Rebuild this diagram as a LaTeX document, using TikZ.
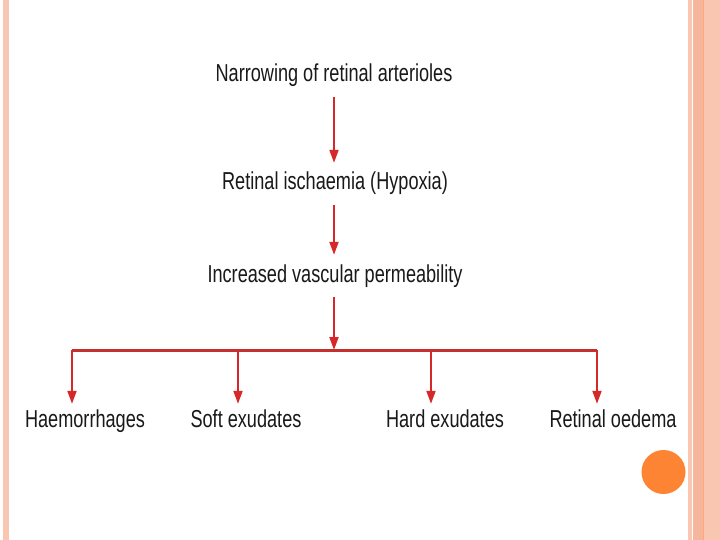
\documentclass[tikz,border=0pt]{standalone}
\usepackage{fontspec}
\setmainfont[FakeStretch=0.74]{Liberation Sans}
\usepackage{xcolor}
\usetikzlibrary{arrows.meta}
\definecolor{arrowred}{RGB}{214,40,40}
\definecolor{busred}{RGB}{196,48,48}
\definecolor{stripe}{RGB}{249,198,178}
\definecolor{stripedark}{RGB}{246,182,158}
\definecolor{dotorange}{RGB}{252,132,50}

\begin{document}
\begin{tikzpicture}[x=1pt, y=-1pt,
    flowtext/.style={anchor=base, font=\fontsize{24.5}{28}\selectfont, text=black!90, text height=17pt, text depth=5pt, inner sep=10pt},
    redarrow/.style={draw=arrowred, line width=2pt, -{Triangle[width=9pt,length=13pt]}}]

    \useasboundingbox (0,0) rectangle (720,540);
    \fill[white] (0,0) rectangle (720,540);

    % slide border
    \fill[stripe] (3,0) rectangle (9,540);
    \fill[stripe] (688,0) rectangle (692,540);
    \fill[stripedark] (693,0) rectangle (703,540);
    \fill[stripe] (703,0) rectangle (720,540);
    \draw[dotorange!70, line width=0.8pt] (703,0) -- (703,540);
    \fill[dotorange] (663.5,472) circle (22);

    \node[flowtext] (narrow) at (334,82) {Narrowing of retinal arterioles};
    \node[flowtext] (ischaemia) at (335,190) {Retinal ischaemia (Hypoxia)};
    \node[flowtext] (permeab) at (335,282) {Increased vascular permeability};

    \node[flowtext] (haem) at (85,427) {Haemorrhages};
    \node[flowtext] (soft) at (246,427) {Soft exudates};
    \node[flowtext] (hard) at (445,427) {Hard exudates};
    \node[flowtext] (oedema) at (613,427) {Retinal oedema};

    \coordinate (junc) at (334,350);
    \coordinate (b1) at (72,350);
    \coordinate (b2) at (238,350);
    \coordinate (b3) at (431,350);
    \coordinate (b4) at (597,350);

    \draw[redarrow] (narrow.south -| junc) -- (ischaemia.north -| junc);
    \draw[redarrow] (ischaemia.south -| junc) -- (permeab.north -| junc);
    \draw[redarrow] (permeab.south -| junc) -- (junc);
    \draw[draw=busred, line width=3pt] (b1) -- (b4);

    \draw[redarrow, shorten >=-4pt] (b1) -- (b1 |- haem.north);
    \draw[redarrow, shorten >=-4pt] (b2) -- (b2 |- soft.north);
    \draw[redarrow, shorten >=-4pt] (b3) -- (b3 |- hard.north);
    \draw[redarrow, shorten >=-4pt] (b4) -- (b4 |- oedema.north);
\end{tikzpicture}
\end{document}
